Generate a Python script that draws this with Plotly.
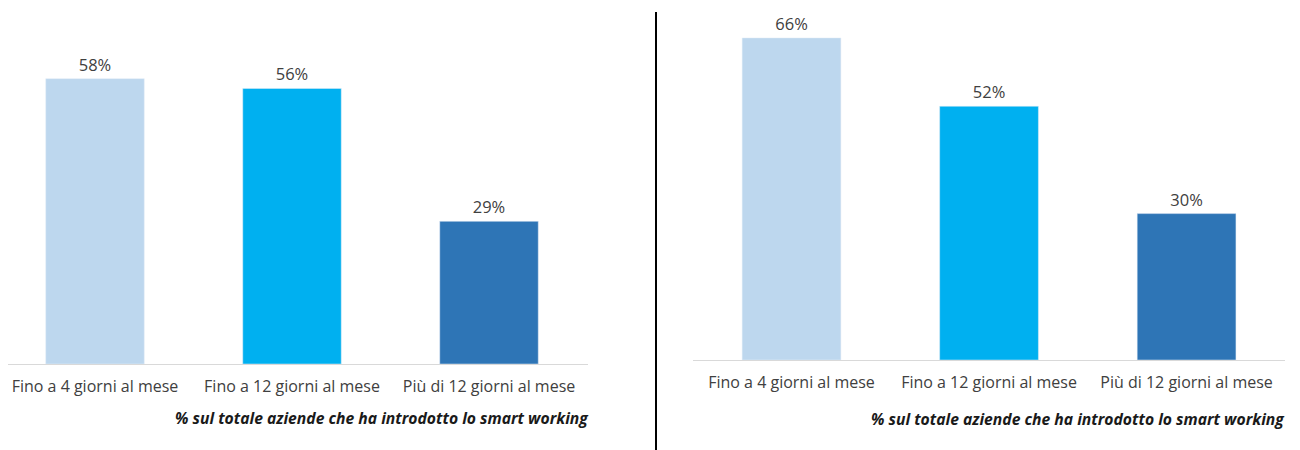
import plotly.graph_objects as go

categories = ["Fino a 4 giorni al mese", "Fino a 12 giorni al mese", "Più di 12 giorni al mese"]
left_values = [58, 56, 29]
right_values = [66, 52, 30]
bar_colors = ["#BDD7EE", "#00B0F0", "#2E75B6"]
subtitle = "% sul totale aziende che ha introdotto lo smart working"

W, H = 1300, 450
OFF = 8  # page body margin
FONT = "Open Sans"
TXT = "#404040"

def px(p):
    return (p - OFF) / W

def py(p):
    return 1 - (p - OFF) / H

fig = go.Figure()
fig.add_trace(go.Bar(x=categories, y=left_values, marker_color=bar_colors,
                     text=[f"{v}%" for v in left_values], textposition="outside",
                     textfont=dict(size=16.5, color=TXT, family=FONT), cliponaxis=False,
                     xaxis="x", yaxis="y", showlegend=False, hoverinfo="skip"))
fig.add_trace(go.Bar(x=categories, y=right_values, marker_color=bar_colors,
                     text=[f"{v}%" for v in right_values], textposition="outside",
                     textfont=dict(size=16.5, color=TXT, family=FONT), cliponaxis=False,
                     xaxis="x2", yaxis="y2", showlegend=False, hoverinfo="skip"))

xcommon = dict(showline=True, linecolor="#D9D9D9", linewidth=1, showgrid=False,
               zeroline=False, ticks="", ticklabelstandoff=8,
               tickfont=dict(size=16, color=TXT, family=FONT),
               fixedrange=True)
ycommon = dict(visible=False, showgrid=False, zeroline=False, fixedrange=True)

fig.update_layout(
    width=W, height=H,
    margin=dict(l=0, r=0, t=0, b=0),
    paper_bgcolor="white", plot_bgcolor="white",
    bargap=0.5,
    uniformtext=dict(mode=False),
    font=dict(family=FONT, color=TXT),
    xaxis=dict(domain=[0, px(588)], range=[-0.4416, 2.5025], anchor="y", **xcommon),
    yaxis=dict(domain=[py(364), py(20)], range=[0, (364 - 20) / 4.92], anchor="x", **ycommon),
    xaxis2=dict(domain=[px(693), px(1285)], range=[-0.4987, 2.4983], anchor="y2", **xcommon),
    yaxis2=dict(domain=[py(360), py(20)], range=[0, (360 - 20) / 4.88], anchor="x2", **ycommon),
)

fig.add_annotation(text=f"<b><i>{subtitle}</i></b>", xref="paper", yref="paper",
                   x=px(591), y=py(418), xanchor="right", yanchor="middle", showarrow=False,
                   font=dict(size=15.7, color="#1a1a1a", family=FONT))
fig.add_annotation(text=f"<b><i>{subtitle}</i></b>", xref="paper", yref="paper",
                   x=px(1287), y=py(419), xanchor="right", yanchor="middle", showarrow=False,
                   font=dict(size=15.7, color="#1a1a1a", family=FONT))

fig.add_shape(type="line", xref="paper", yref="paper",
              x0=px(656), x1=px(656), y0=0, y1=py(12),
              line=dict(color="black", width=2))

fig.write_html("out.html")
